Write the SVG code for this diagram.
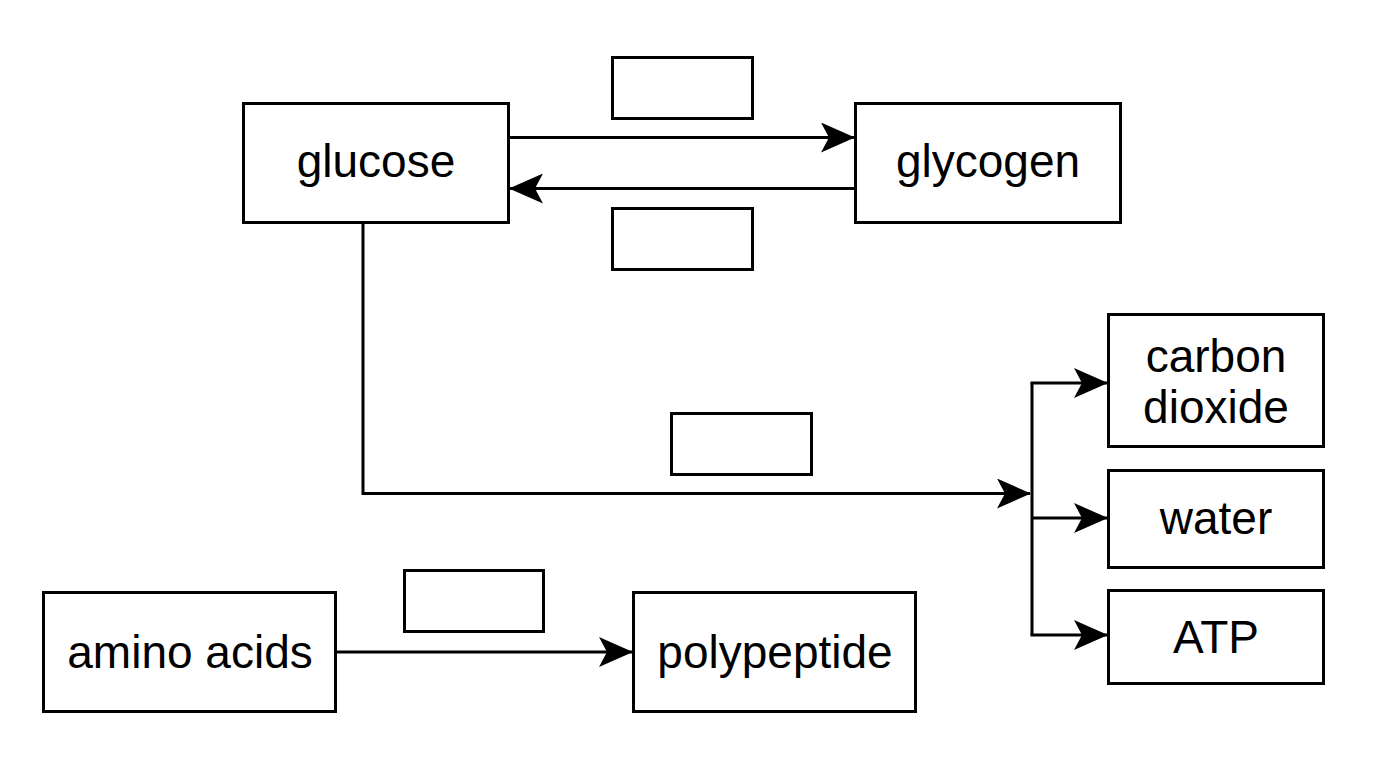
<svg xmlns="http://www.w3.org/2000/svg" width="1376" height="768" viewBox="0 0 1376 768">
<style>
.box{fill:#fff;stroke:#000;stroke-width:3}
.lbl{font-family:"Liberation Sans",Arial,sans-serif;font-size:46px;fill:#000;text-anchor:middle}
.conn{fill:none;stroke:#000;stroke-width:3}
</style>
<defs>
<marker id="arr" viewBox="0 0 34 30" refX="33" refY="15" markerWidth="34" markerHeight="30" markerUnits="userSpaceOnUse" orient="auto">
<path d="M0,0 L34,15 L0,30 L8,15 Z" fill="#000"/>
</marker>
</defs>
<rect width="1376" height="768" fill="#fff"/>
<g id="connectors">
<path class="conn" d="M508,137.5 H854" marker-end="url(#arr)"/>
<path class="conn" d="M855,188.5 H510" marker-end="url(#arr)"/>
<path class="conn" d="M363,222 V493.5 H1030" marker-end="url(#arr)"/>
<path class="conn" d="M1032,383 V635"/>
<path class="conn" d="M1030.5,383 H1107" marker-end="url(#arr)"/>
<path class="conn" d="M1032,518 H1107" marker-end="url(#arr)"/>
<path class="conn" d="M1030.5,635 H1107" marker-end="url(#arr)"/>
<path class="conn" d="M336,652 H632" marker-end="url(#arr)"/>
</g>
<g id="glucose"><rect class="box" x="243.5" y="103.5" width="265" height="119"/><text class="lbl" x="376" y="177">glucose</text></g>
<g id="glycogen"><rect class="box" x="855.5" y="103.5" width="265" height="119"/><text class="lbl" x="988" y="177">glycogen</text></g>
<g id="blank1"><rect class="box" x="612.5" y="57.5" width="140" height="61"/></g>
<g id="blank2"><rect class="box" x="612.5" y="208.5" width="140" height="61"/></g>
<g id="blank3"><rect class="box" x="671.5" y="413.5" width="140" height="61"/></g>
<g id="blank4"><rect class="box" x="404.5" y="570.5" width="139" height="61"/></g>
<g id="carbon-dioxide"><rect class="box" x="1108.5" y="314.5" width="215" height="132"/><text class="lbl" x="1216" y="372">carbon</text><text class="lbl" x="1216" y="423">dioxide</text></g>
<g id="water"><rect class="box" x="1108.5" y="470.5" width="215" height="97"/><text class="lbl" x="1216" y="534">water</text></g>
<g id="atp"><rect class="box" x="1108.5" y="590.5" width="215" height="93"/><text class="lbl" x="1216" y="653">ATP</text></g>
<g id="amino-acids"><rect class="box" x="43.5" y="592.5" width="292" height="119"/><text class="lbl" x="190" y="668">amino acids</text></g>
<g id="polypeptide"><rect class="box" x="633.5" y="592.5" width="282" height="119"/><text class="lbl" x="775" y="668">polypeptide</text></g>
</svg>
